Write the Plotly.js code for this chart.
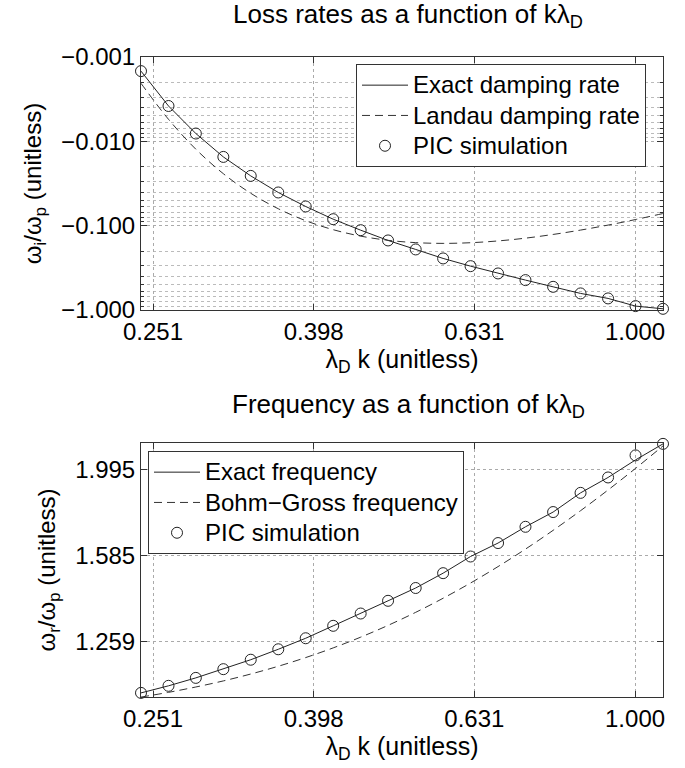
<!DOCTYPE html>
<html>
<head>
<meta charset="utf-8">
<script src="https://cdn.plot.ly/plotly-3.0.1.min.js"></script>
<style>
  html, body { margin: 0; padding: 0; background: #fff; }
  #chart { width: 685px; height: 768px; }
</style>
</head>
<body>
<div id="chart"></div>
<script>
// k * lambda_D values (log spaced samples)
const kLambda = [0.2427, 0.2626, 0.2840, 0.3073, 0.3324, 0.3597, 0.3891, 0.4210, 0.4555, 0.4927,
                 0.5333, 0.5769, 0.6241, 0.6753, 0.7305, 0.7907, 0.8554, 0.9256, 1.0014, 1.0834];

// |omega_i / omega_p| (plotted as negative values on a reversed log axis)
const exactDamping = [0.00147, 0.00381, 0.00808, 0.0153, 0.0257, 0.0404, 0.0592, 0.0838, 0.1131, 0.1497,
                      0.1914, 0.2446, 0.302, 0.3685, 0.442, 0.531, 0.636, 0.729, 0.899, 0.968];
const landauDamping = [0.00205, 0.00548, 0.0124, 0.0242, 0.0413, 0.0630, 0.0873, 0.1116, 0.1330, 0.1491,
                       0.1589, 0.1622, 0.1593, 0.1517, 0.1406, 0.1271, 0.1128, 0.0984, 0.0846, 0.0718];
const picDamping = [0.00147, 0.00381, 0.00808, 0.0153, 0.0257, 0.0404, 0.0592, 0.0838, 0.1131, 0.1497,
                    0.1914, 0.2446, 0.302, 0.3685, 0.442, 0.531, 0.636, 0.729, 0.899, 0.968];

// omega_r / omega_p
const exactFreq = [1.097, 1.118, 1.142, 1.169, 1.199, 1.233, 1.270, 1.313, 1.357, 1.404,
                   1.453, 1.512, 1.581, 1.639, 1.712, 1.781, 1.875, 1.954, 2.048, 2.138];
const bohmGrossFreq = [1.0848, 1.0986, 1.1145, 1.1328, 1.1539, 1.1782, 1.2059, 1.2376, 1.2737, 1.3146,
                       1.3613, 1.4137, 1.4726, 1.5389, 1.6127, 1.6958, 1.7875, 1.8895, 2.0021, 2.1264];
const picFreq = [1.097, 1.118, 1.142, 1.169, 1.199, 1.233, 1.270, 1.313, 1.357, 1.404,
                 1.453, 1.512, 1.581, 1.639, 1.712, 1.781, 1.875, 1.954, 2.073, 2.138];

// tick values / labels
const xTickVals = [0.2512, 0.3981, 0.631, 1.0];
const xTickText = ["0.251", "0.398", "0.631", "1.000"];
const yTopTickVals = [0.001, 0.01, 0.1, 1];
const yTopTickText = ["\u22120.001", "\u22120.010", "\u22120.100", "\u22121.000"];
const yTopMinorVals = [0.002,0.003,0.004,0.005,0.006,0.007,0.008,0.009,
                       0.02,0.03,0.04,0.05,0.06,0.07,0.08,0.09,
                       0.2,0.3,0.4,0.5,0.6,0.7,0.8,0.9];
const yBotTickVals = [1.2589, 1.5849, 1.9953];
const yBotTickText = ["1.259", "1.585", "1.995"];

const FONT = "Liberation Sans, Arial, Helvetica, sans-serif";
const lineCol = "#222";
const big = s => '<span style="font-size:24px">' + s + '</span>';

const traces = [
  { x: kLambda, y: exactDamping, mode: "lines", name: big("Exact damping rate"),
    line: { color: lineCol, width: 1 }, xaxis: "x", yaxis: "y", legend: "legend", legendgroup: "a" },
  { x: kLambda, y: landauDamping, mode: "lines", name: big("Landau damping rate"),
    line: { color: "#333", width: 1, dash: "8px,5px", shape: "spline" }, xaxis: "x", yaxis: "y", legend: "legend", legendgroup: "b" },
  { x: kLambda, y: picDamping, mode: "markers", name: big("PIC simulation"),
    marker: { symbol: "circle-open", size: 11, color: lineCol, line: { width: 1, color: lineCol } },
    cliponaxis: false, xaxis: "x", yaxis: "y", legend: "legend", legendgroup: "c" },

  { x: kLambda, y: exactFreq, mode: "lines", name: big("Exact frequency"),
    line: { color: lineCol, width: 1 }, xaxis: "x2", yaxis: "y2", legend: "legend2", legendgroup: "d" },
  { x: kLambda, y: bohmGrossFreq, mode: "lines", name: big("Bohm\u2212Gross frequency"),
    line: { color: "#333", width: 1, dash: "8px,5px", shape: "spline" }, xaxis: "x2", yaxis: "y2", legend: "legend2", legendgroup: "e" },
  { x: kLambda, y: picFreq, mode: "markers", name: big("PIC simulation"),
    marker: { symbol: "circle-open", size: 11, color: lineCol, line: { width: 1, color: lineCol } },
    cliponaxis: false, xaxis: "x2", yaxis: "y2", legend: "legend2", legendgroup: "f" }
];

const axCommon = {
  type: "log",
  showline: true, linecolor: "#333", linewidth: 1, mirror: "ticks",
  ticks: "inside", ticklen: 6, tickcolor: "#333", tickwidth: 1,
  showgrid: true, gridcolor: "#aaa", griddash: "dot", gridwidth: 1,
  zeroline: false, automargin: false,
  tickfont: { family: FONT, size: 24, color: "#000" },
  tickmode: "array"
};

const legCommon = {
  bgcolor: "#fff", bordercolor: "#333", borderwidth: 1,
  font: { family: FONT, size: 21, color: "#000" },
  itemwidth: 46,
  xanchor: "left", yanchor: "top", traceorder: "grouped", tracegroupgap: 0
};

const layout = {
  width: 685, height: 768,
  margin: { l: 0, r: 0, t: 0, b: 0 },
  paper_bgcolor: "#fff", plot_bgcolor: "#fff",
  font: { family: FONT, color: "#000" },
  showlegend: true,
  xaxis: Object.assign({}, axCommon, {
    domain: [141/685, 663/685], anchor: "y",
    range: [Math.log10(0.2427), Math.log10(1.0834)],
    tickvals: xTickVals, ticktext: xTickText,
    title: { text: "\u03bb<sub>D</sub> k (unitless)", font: { family: FONT, size: 25 }, standoff: 2 }
  }),
  yaxis: Object.assign({}, axCommon, {
    domain: [1 - 310/768, 1 - 57/768], anchor: "x",
    range: [0, -3],
    tickvals: yTopTickVals, ticktext: yTopTickText,
    minor: { tickmode: "array", tickvals: yTopMinorVals, ticks: "inside", ticklen: 3, tickcolor: "#333",
             showgrid: true, gridcolor: "#bbb", griddash: "dot", gridwidth: 1 },
    title: { text: "\u03c9<sub>i</sub>/\u03c9<sub>p</sub> (unitless)", font: { family: FONT, size: 24 }, standoff: 12 }
  }),
  xaxis2: Object.assign({}, axCommon, {
    domain: [141/685, 663/685], anchor: "y2",
    range: [Math.log10(0.2427), Math.log10(1.0834)],
    tickvals: xTickVals, ticktext: xTickText,
    title: { text: "\u03bb<sub>D</sub> k (unitless)", font: { family: FONT, size: 25 }, standoff: 2 }
  }),
  yaxis2: Object.assign({}, axCommon, {
    domain: [1 - 697/768, 1 - 443/768], anchor: "x2",
    range: [Math.log10(1.085), Math.log10(2.143)],
    tickvals: yBotTickVals, ticktext: yBotTickText,
    title: { text: "\u03c9<sub>r</sub>/\u03c9<sub>p</sub> (unitless)", font: { family: FONT, size: 24 }, standoff: 12 }
  }),
  legend: Object.assign({}, legCommon, { x: 356/685, y: 1 - 64/768 }),
  legend2: Object.assign({}, legCommon, { x: 148/685, y: 1 - 451/768 }),
  annotations: [
    { text: "Loss rates as a function of k\u03bb<sub>D</sub>", xref: "paper", yref: "paper",
      x: 408/685, y: 1 - 34/768, xanchor: "center", yanchor: "bottom", showarrow: false,
      font: { family: FONT, size: 26, color: "#000" } },
    { text: "Frequency as a function of k\u03bb<sub>D</sub>", xref: "paper", yref: "paper",
      x: 408/685, y: 1 - 424/768, xanchor: "center", yanchor: "bottom", showarrow: false,
      font: { family: FONT, size: 26, color: "#000" } }
  ]
};

Plotly.newPlot("chart", traces, layout, { displayModeBar: false, staticPlot: true });
</script>
</body>
</html>
